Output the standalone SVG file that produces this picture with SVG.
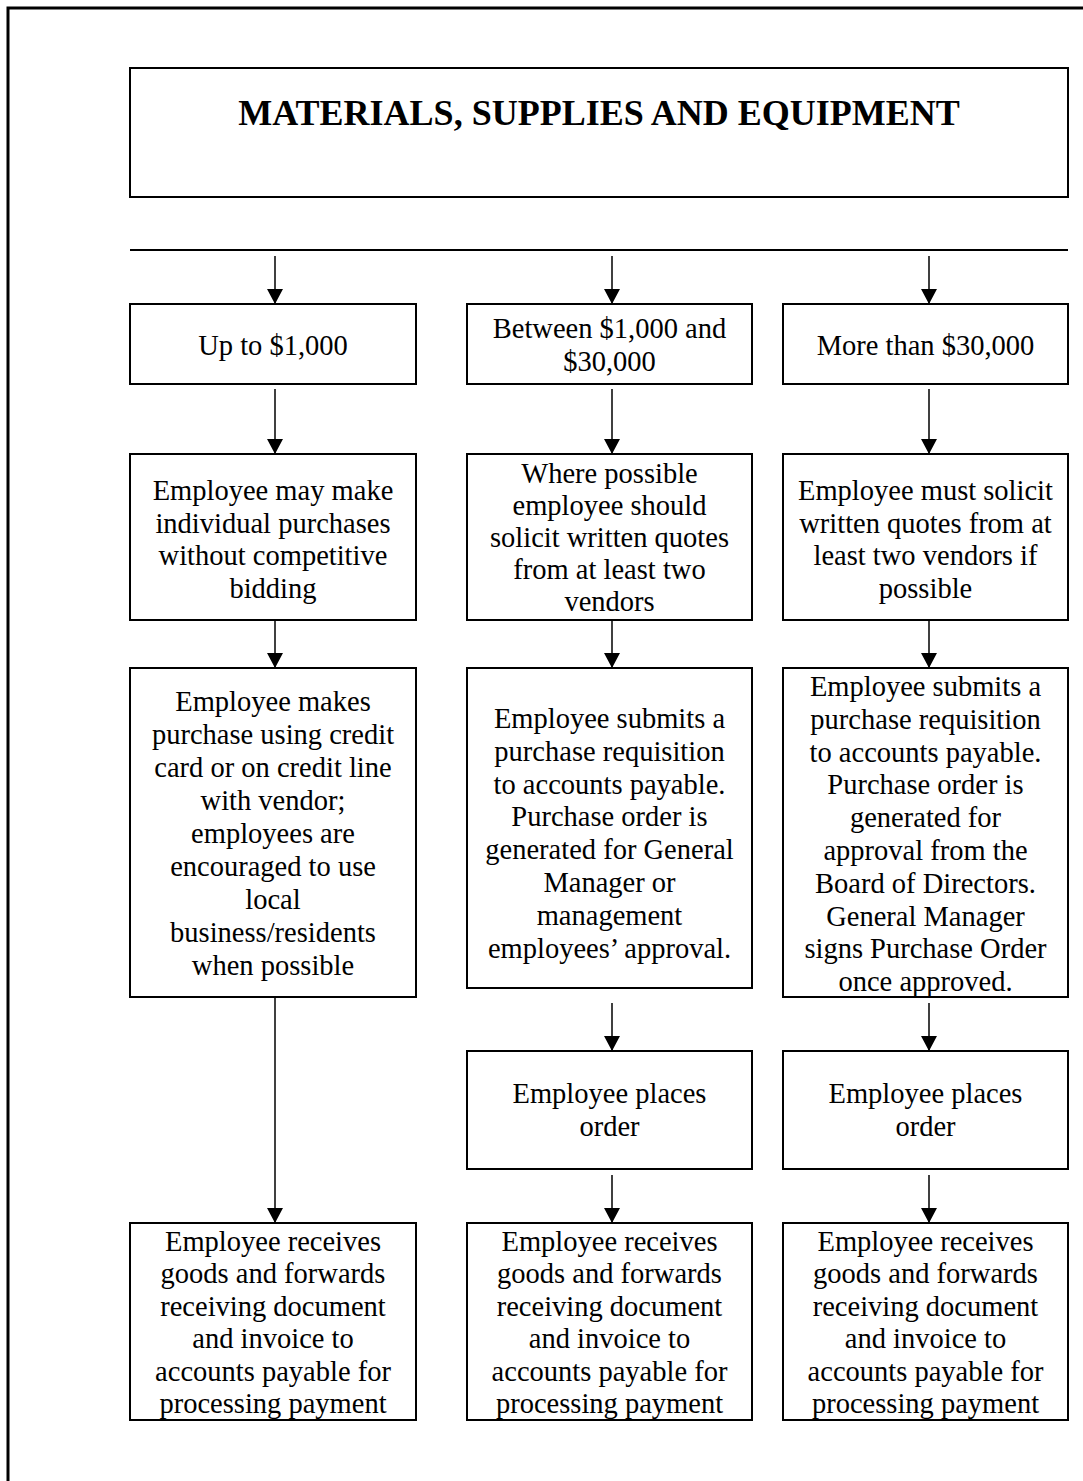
<svg xmlns="http://www.w3.org/2000/svg" width="1083" height="1481" viewBox="0 0 1083 1481">
<style>
.box{fill:#fff;stroke:#000;stroke-width:2}
.t{font-family:"Liberation Serif","Times New Roman",serif;font-size:28.5px;fill:#000;text-anchor:middle}
.title{font-family:"Liberation Serif","Times New Roman",serif;font-size:36px;font-weight:bold;fill:#000;text-anchor:middle}
.c{stroke:#000;stroke-width:1.5;fill:none;marker-end:url(#ah)}
</style>
<defs>
<marker id="ah" viewBox="0 0 15 16" refX="15" refY="8" markerWidth="15" markerHeight="16" markerUnits="userSpaceOnUse" orient="auto">
<path d="M0,0 L15,8 L0,16 z" fill="#000"/>
</marker>
</defs>
<rect width="1083" height="1481" fill="#fff"/>
<path d="M8,1481 V8 H1083" fill="none" stroke="#000" stroke-width="3"/>

<g id="title">
<rect class="box" x="130" y="68" width="938" height="129"/>
<text class="title" x="599" y="125">MATERIALS, SUPPLIES AND EQUIPMENT</text>
</g>

<g id="connectors">
<line x1="130" y1="250" x2="1068" y2="250" stroke="#000" stroke-width="2"/>
<line class="c" x1="275" y1="256" x2="275" y2="304"/>
<line class="c" x1="612" y1="256" x2="612" y2="304"/>
<line class="c" x1="929" y1="256" x2="929" y2="304"/>
<line class="c" x1="275" y1="389" x2="275" y2="454"/>
<line class="c" x1="612" y1="389" x2="612" y2="454"/>
<line class="c" x1="929" y1="389" x2="929" y2="454"/>
<line class="c" x1="275" y1="620" x2="275" y2="668"/>
<line class="c" x1="612" y1="620" x2="612" y2="668"/>
<line class="c" x1="929" y1="620" x2="929" y2="668"/>
<line class="c" x1="275" y1="997" x2="275" y2="1223"/>
<line class="c" x1="612" y1="1003" x2="612" y2="1051"/>
<line class="c" x1="929" y1="1003" x2="929" y2="1051"/>
<line class="c" x1="612" y1="1175" x2="612" y2="1223"/>
<line class="c" x1="929" y1="1175" x2="929" y2="1223"/>
</g>

<g id="n-upto">
<rect class="box" x="130" y="304" width="286" height="80"/>
<text class="t" x="273" y="355">Up to $1,000</text>
</g>
<g id="n-between">
<rect class="box" x="467" y="304" width="285" height="80"/>
<text class="t" x="609.5" y="338">Between $1,000 and</text>
<text class="t" x="609.5" y="371">$30,000</text>
</g>
<g id="n-more">
<rect class="box" x="783" y="304" width="285" height="80"/>
<text class="t" x="925.5" y="355">More than $30,000</text>
</g>

<g id="n-individual">
<rect class="box" x="130" y="454" width="286" height="166"/>
<text class="t" x="273" y="500">Employee may make</text>
<text class="t" x="273" y="532.7">individual purchases</text>
<text class="t" x="273" y="565.4">without competitive</text>
<text class="t" x="273" y="598.1">bidding</text>
</g>
<g id="n-should">
<rect class="box" x="467" y="454" width="285" height="166"/>
<text class="t" x="609.5" y="483">Where possible</text>
<text class="t" x="609.5" y="515">employee should</text>
<text class="t" x="609.5" y="547">solicit written quotes</text>
<text class="t" x="609.5" y="579">from at least two</text>
<text class="t" x="609.5" y="611">vendors</text>
</g>
<g id="n-must">
<rect class="box" x="783" y="454" width="285" height="166"/>
<text class="t" x="925.5" y="500">Employee must solicit</text>
<text class="t" x="925.5" y="532.7">written quotes from at</text>
<text class="t" x="925.5" y="565.4">least two vendors if</text>
<text class="t" x="925.5" y="598.1">possible</text>
</g>

<g id="n-credit">
<rect class="box" x="130" y="668" width="286" height="329"/>
<text class="t" x="273" y="711">Employee makes</text>
<text class="t" x="273" y="744">purchase using credit</text>
<text class="t" x="273" y="777">card or on credit line</text>
<text class="t" x="273" y="810">with vendor;</text>
<text class="t" x="273" y="843">employees are</text>
<text class="t" x="273" y="876">encouraged to use</text>
<text class="t" x="273" y="909">local</text>
<text class="t" x="273" y="942">business/residents</text>
<text class="t" x="273" y="975">when possible</text>
</g>
<g id="n-req-gm">
<rect class="box" x="467" y="668" width="285" height="320"/>
<text class="t" x="609.5" y="728">Employee submits a</text>
<text class="t" x="609.5" y="760.8">purchase requisition</text>
<text class="t" x="609.5" y="793.6">to accounts payable.</text>
<text class="t" x="609.5" y="826.4">Purchase order is</text>
<text class="t" x="609.5" y="859.2">generated for General</text>
<text class="t" x="609.5" y="892">Manager or</text>
<text class="t" x="609.5" y="924.8">management</text>
<text class="t" x="609.5" y="957.6">employees’ approval.</text>
</g>
<g id="n-req-board">
<rect class="box" x="783" y="668" width="285" height="329"/>
<text class="t" x="925.5" y="696">Employee submits a</text>
<text class="t" x="925.5" y="728.8">purchase requisition</text>
<text class="t" x="925.5" y="761.6">to accounts payable.</text>
<text class="t" x="925.5" y="794.4">Purchase order is</text>
<text class="t" x="925.5" y="827.2">generated for</text>
<text class="t" x="925.5" y="860">approval from the</text>
<text class="t" x="925.5" y="892.8">Board of Directors.</text>
<text class="t" x="925.5" y="925.6">General Manager</text>
<text class="t" x="925.5" y="958.4">signs Purchase Order</text>
<text class="t" x="925.5" y="991.2">once approved.</text>
</g>

<g id="n-place-mid">
<rect class="box" x="467" y="1051" width="285" height="118"/>
<text class="t" x="609.5" y="1103">Employee places</text>
<text class="t" x="609.5" y="1136">order</text>
</g>
<g id="n-place-right">
<rect class="box" x="783" y="1051" width="285" height="118"/>
<text class="t" x="925.5" y="1103">Employee places</text>
<text class="t" x="925.5" y="1136">order</text>
</g>

<g id="n-recv-left">
<rect class="box" x="130" y="1223" width="286" height="197"/>
<text class="t" x="273" y="1251">Employee receives</text>
<text class="t" x="273" y="1283.4">goods and forwards</text>
<text class="t" x="273" y="1315.8">receiving document</text>
<text class="t" x="273" y="1348.2">and invoice to</text>
<text class="t" x="273" y="1380.6">accounts payable for</text>
<text class="t" x="273" y="1413">processing payment</text>
</g>
<g id="n-recv-mid">
<rect class="box" x="467" y="1223" width="285" height="197"/>
<text class="t" x="609.5" y="1251">Employee receives</text>
<text class="t" x="609.5" y="1283.4">goods and forwards</text>
<text class="t" x="609.5" y="1315.8">receiving document</text>
<text class="t" x="609.5" y="1348.2">and invoice to</text>
<text class="t" x="609.5" y="1380.6">accounts payable for</text>
<text class="t" x="609.5" y="1413">processing payment</text>
</g>
<g id="n-recv-right">
<rect class="box" x="783" y="1223" width="285" height="197"/>
<text class="t" x="925.5" y="1251">Employee receives</text>
<text class="t" x="925.5" y="1283.4">goods and forwards</text>
<text class="t" x="925.5" y="1315.8">receiving document</text>
<text class="t" x="925.5" y="1348.2">and invoice to</text>
<text class="t" x="925.5" y="1380.6">accounts payable for</text>
<text class="t" x="925.5" y="1413">processing payment</text>
</g>
</svg>
